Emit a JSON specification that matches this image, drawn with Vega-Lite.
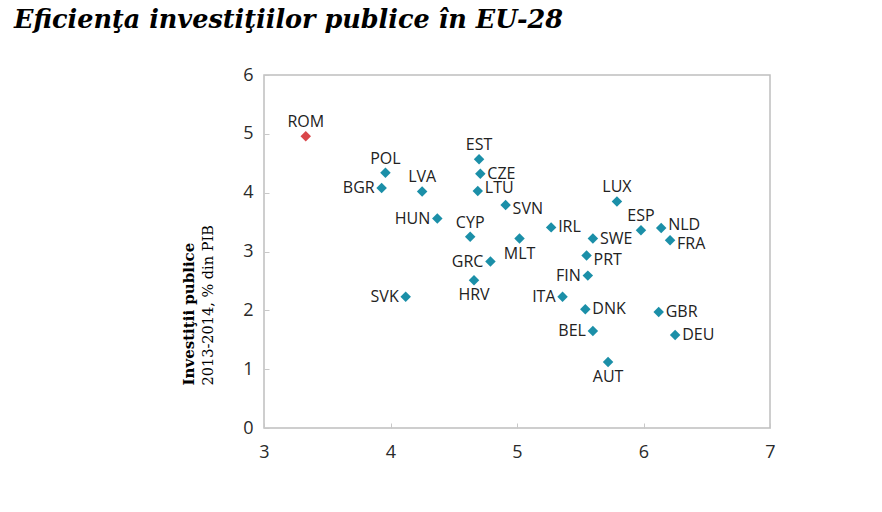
{
  "$schema": "https://vega.github.io/schema/vega-lite/v6.json",
  "width": 506,
  "height": 353,
  "autosize": {"type": "none"},
  "padding": {"left": 264, "top": 75, "right": 112, "bottom": 84},
  "background": "white",
  "title": {
    "text": "Eficienţa investiţiilor publice în EU-28",
    "anchor": "start",
    "frame": "group",
    "dx": -250,
    "offset": 13,
    "baseline": "alphabetic",
    "font": "DejaVu Serif",
    "fontSize": 25.5,
    "fontWeight": "bold",
    "fontStyle": "italic",
    "color": "#000000"
  },
  "config": {
    "view": {"stroke": "#bfbfbf", "strokeWidth": 1.5},
    "axis": {
      "grid": false,
      "domain": false,
      "tickColor": "#c8c8c8",
      "tickSize": -5,
      "labelFont": "Open Sans",
      "labelFontSize": 18,
      "labelColor": "#2a2a2a"
    }
  },
  "data": {
    "values": [
      {"country": "ROM", "x": 3.33, "y": 4.96},
      {"country": "POL", "x": 3.96, "y": 4.34},
      {"country": "BGR", "x": 3.93, "y": 4.08},
      {"country": "LVA", "x": 4.25, "y": 4.02},
      {"country": "HUN", "x": 4.37, "y": 3.56},
      {"country": "EST", "x": 4.70, "y": 4.57},
      {"country": "CZE", "x": 4.71, "y": 4.32},
      {"country": "LTU", "x": 4.69, "y": 4.03},
      {"country": "SVN", "x": 4.91, "y": 3.79},
      {"country": "CYP", "x": 4.63, "y": 3.25},
      {"country": "GRC", "x": 4.79, "y": 2.83},
      {"country": "HRV", "x": 4.66, "y": 2.51},
      {"country": "SVK", "x": 4.12, "y": 2.23},
      {"country": "MLT", "x": 5.02, "y": 3.22},
      {"country": "IRL", "x": 5.27, "y": 3.41},
      {"country": "LUX", "x": 5.79, "y": 3.85},
      {"country": "ESP", "x": 5.98, "y": 3.36},
      {"country": "NLD", "x": 6.14, "y": 3.40},
      {"country": "FRA", "x": 6.21, "y": 3.19},
      {"country": "SWE", "x": 5.60, "y": 3.22},
      {"country": "PRT", "x": 5.55, "y": 2.93},
      {"country": "FIN", "x": 5.56, "y": 2.59},
      {"country": "ITA", "x": 5.36, "y": 2.23},
      {"country": "DNK", "x": 5.54, "y": 2.02},
      {"country": "BEL", "x": 5.60, "y": 1.65},
      {"country": "AUT", "x": 5.72, "y": 1.12},
      {"country": "GBR", "x": 6.12, "y": 1.97},
      {"country": "DEU", "x": 6.25, "y": 1.58}
    ]
  },
  "encoding": {
    "x": {
      "field": "x",
      "type": "quantitative",
      "scale": {"domain": [3, 7], "nice": false},
      "axis": {"values": [3, 4, 5, 6, 7], "title": null, "labelPadding": 20, "labelFlush": false}
    }
  },
  "layer": [
    {
      "mark": {"type": "point", "shape": "diamond", "filled": true, "size": 110, "opacity": 1},
      "encoding": {
        "y": {
          "field": "y",
          "type": "quantitative",
          "scale": {"domain": [0, 6], "nice": false},
          "axis": {
            "orient": "left",
            "values": [0, 1, 2, 3, 4, 5, 6],
            "labelPadding": 16,
            "labelFlush": false,
            "title": "2013-2014, % din PIB",
            "titleFont": "DejaVu Serif",
            "titleFontSize": 14.5,
            "titleFontWeight": "normal",
            "titleColor": "#000000",
            "titleAngle": 270,
            "titleAlign": "left",
            "titleBaseline": "middle",
            "titleX": -56,
            "titleY": 310
          }
        },
        "color": {
          "condition": {"test": "datum.country === 'ROM'", "value": "#d9464a"},
          "value": "#1b8fa8"
        }
      }
    },
    {
      "transform": [{"filter": {"field": "country", "oneOf": ["CZE", "IRL", "SWE", "DNK", "GBR", "DEU"]}}],
      "mark": {"type": "text", "align": "left", "baseline": "middle", "dx": 7, "font": "Open Sans", "fontSize": 16, "color": "#222222"},
      "encoding": {
        "y": {
          "field": "y",
          "type": "quantitative",
          "scale": {"domain": [0, 6], "nice": false},
          "axis": {
            "orient": "left",
            "labels": false,
            "ticks": false,
            "domain": false,
            "title": "Investiţii publice",
            "titleFont": "DejaVu Serif",
            "titleFontSize": 15,
            "titleFontWeight": "bold",
            "titleColor": "#000000",
            "titleAngle": 270,
            "titleAlign": "left",
            "titleBaseline": "middle",
            "titleX": -76,
            "titleY": 310
          }
        },
        "text": {"field": "country"}
      }
    },
    {
      "transform": [{"filter": {"field": "country", "oneOf": ["NLD", "LTU"]}}],
      "mark": {"type": "text", "align": "left", "baseline": "middle", "dx": 7, "dy": -3, "font": "Open Sans", "fontSize": 16, "color": "#222222"},
      "encoding": {
        "y": {"field": "y", "type": "quantitative", "scale": {"domain": [0, 6], "nice": false}, "axis": null},
        "text": {"field": "country"}
      }
    },
    {
      "transform": [{"filter": {"field": "country", "oneOf": ["FRA", "SVN", "PRT"]}}],
      "mark": {"type": "text", "align": "left", "baseline": "middle", "dx": 7, "dy": 4, "font": "Open Sans", "fontSize": 16, "color": "#222222"},
      "encoding": {
        "y": {"field": "y", "type": "quantitative", "scale": {"domain": [0, 6], "nice": false}, "axis": null},
        "text": {"field": "country"}
      }
    },
    {
      "transform": [{"filter": {"field": "country", "oneOf": ["BGR", "HUN", "GRC", "SVK", "FIN", "ITA", "BEL"]}}],
      "mark": {"type": "text", "align": "right", "baseline": "middle", "dx": -7, "font": "Open Sans", "fontSize": 16, "color": "#222222"},
      "encoding": {
        "y": {"field": "y", "type": "quantitative", "scale": {"domain": [0, 6], "nice": false}, "axis": null},
        "text": {"field": "country"}
      }
    },
    {
      "transform": [{"filter": {"field": "country", "oneOf": ["ROM", "POL", "EST", "CYP", "LUX", "ESP", "LVA"]}}],
      "mark": {"type": "text", "align": "center", "baseline": "bottom", "dy": -6, "font": "Open Sans", "fontSize": 16, "color": "#222222"},
      "encoding": {
        "y": {"field": "y", "type": "quantitative", "scale": {"domain": [0, 6], "nice": false}, "axis": null},
        "text": {"field": "country"}
      }
    },
    {
      "transform": [{"filter": {"field": "country", "oneOf": ["HRV", "MLT", "AUT"]}}],
      "mark": {"type": "text", "align": "center", "baseline": "top", "dy": 7, "font": "Open Sans", "fontSize": 16, "color": "#222222"},
      "encoding": {
        "y": {"field": "y", "type": "quantitative", "scale": {"domain": [0, 6], "nice": false}, "axis": null},
        "text": {"field": "country"}
      }
    }
  ],
  "resolve": {"axis": {"y": "independent"}}
}
